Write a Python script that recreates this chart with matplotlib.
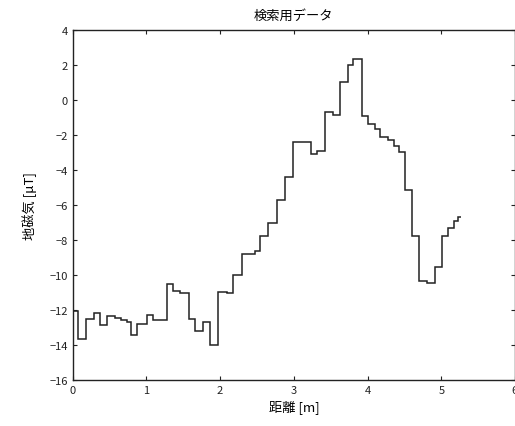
import matplotlib
matplotlib.use("Agg")
import matplotlib.pyplot as plt

plt.rcParams['font.family'] = ['Noto Sans CJK JP', 'DejaVu Sans']

# step edges (distance, m) and values (geomagnetism, uT)
edges = [0.000, 0.068, 0.180, 0.289, 0.370, 0.465, 0.574, 0.655, 0.737, 0.787,
         0.877, 1.004, 1.094, 1.275, 1.354, 1.456, 1.578, 1.660, 1.772, 1.856,
         1.967, 2.090, 2.175, 2.293, 2.474, 2.541, 2.654, 2.768, 2.881, 2.993,
         3.227, 3.315, 3.423, 3.532, 3.627, 3.739, 3.807, 3.925, 4.011, 4.102,
         4.170, 4.278, 4.360, 4.427, 4.509, 4.600, 4.692, 4.803, 4.909, 5.011,
         5.092, 5.174, 5.228, 5.269]
values = [-12.05, -13.7, -12.55, -12.2, -12.85, -12.34, -12.45, -12.6, -12.7, -13.45,
          -12.8, -12.32, -12.6, -10.5, -10.9, -11.05, -12.53, -13.2, -12.72, -14.0,
          -10.97, -11.05, -10.0, -8.8, -8.65, -7.77, -7.05, -5.7, -4.38, -2.4,
          -3.12, -2.92, -0.71, -0.88, 1.0, 1.98, 2.34, -0.9, -1.4, -1.66,
          -2.14, -2.3, -2.65, -3.0, -5.15, -7.8, -10.35, -10.45, -9.58, -7.77,
          -7.33, -6.91, -6.72]

xticks = [0, 1, 2, 3, 4, 5, 6]
yticks = [-16, -14, -12, -10, -8, -6, -4, -2, 0, 2, 4]
title = "検索用データ"
xlabel = "距離 [m]"
ylabel = "地磁気 [μT]"

fig = plt.figure(figsize=(5.15, 4.27), dpi=100)
ax = fig.add_axes([0.1412, 0.1084, 0.8588, 0.819])
ax.stairs(values, edges, color='#222222', linewidth=1.1, baseline=None)
ax.set_xlim(0, 6)
ax.set_ylim(-16, 4)
ax.set_xticks(xticks)
ax.set_yticks(yticks)
ax.tick_params(direction='in', top=True, right=True, length=3, width=0.8,
               labelsize=8, colors='#222222')
for s in ax.spines.values():
    s.set_linewidth(1.0)
    s.set_color('#222222')
ax.set_title(title, fontsize=9.5, pad=8)
ax.set_xlabel(xlabel, fontsize=9.5, labelpad=3)
ax.set_ylabel(ylabel, fontsize=9.5, labelpad=9)
fig.savefig("out.png", dpi=100)
